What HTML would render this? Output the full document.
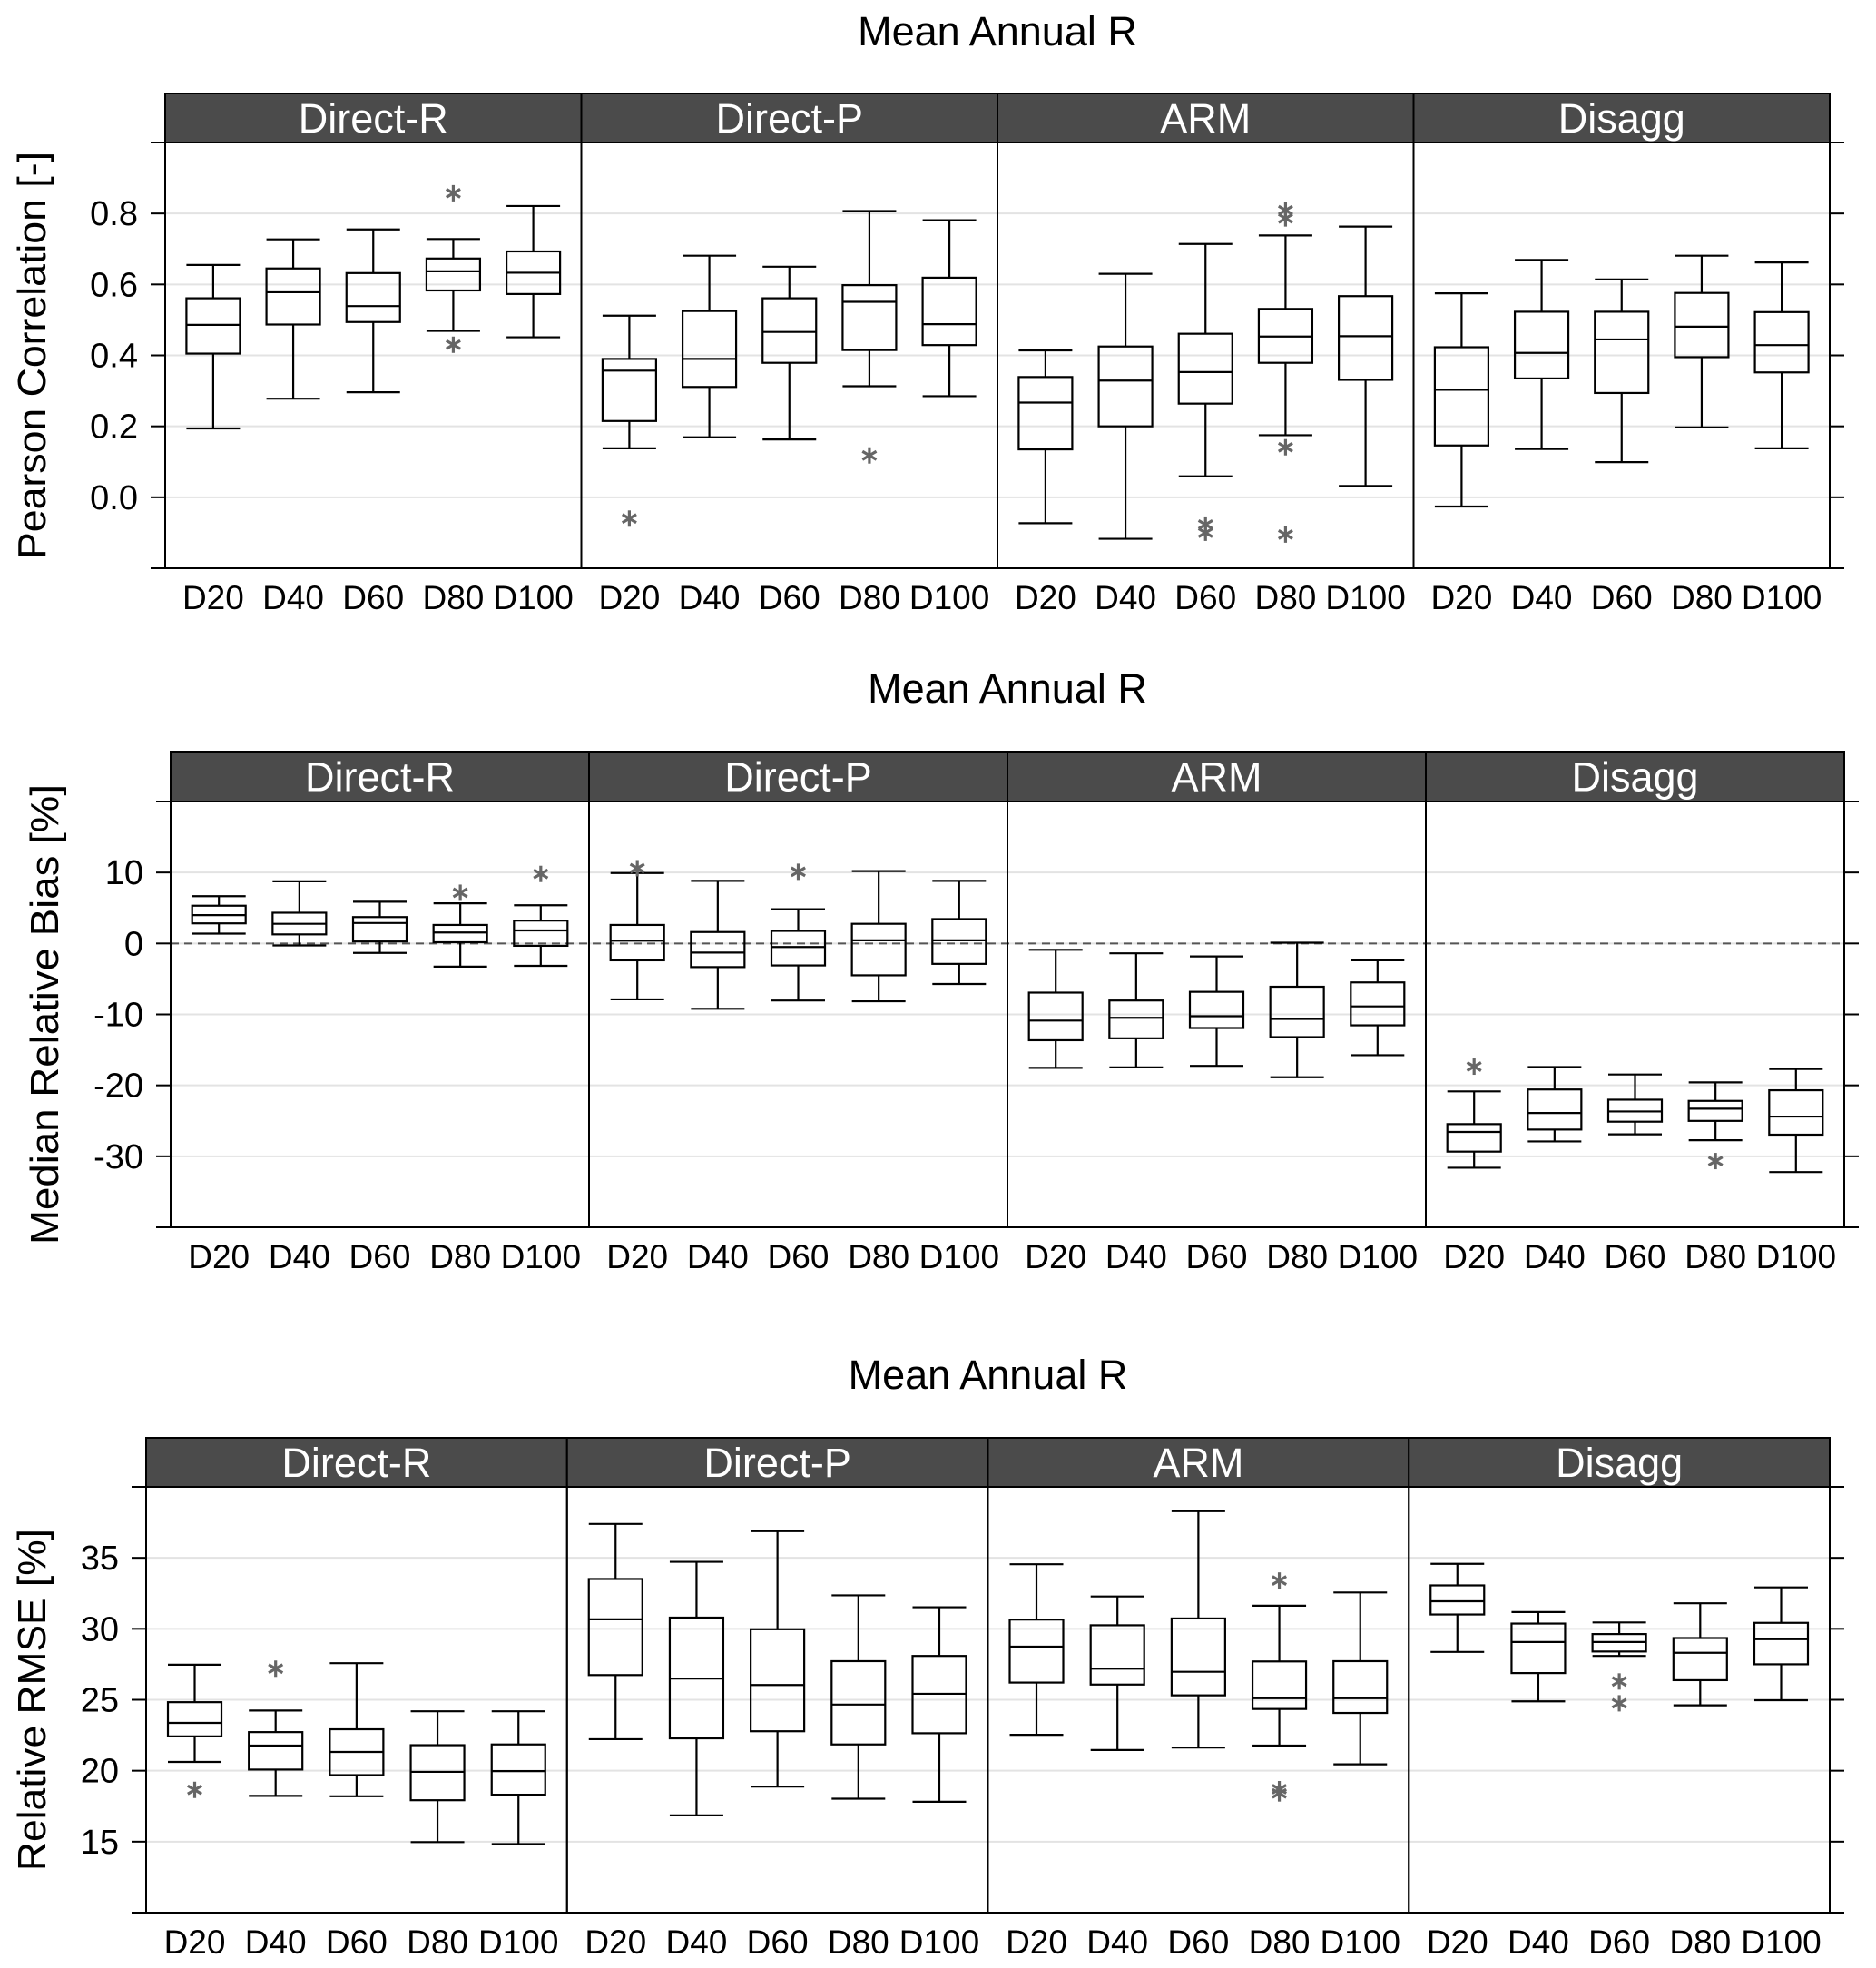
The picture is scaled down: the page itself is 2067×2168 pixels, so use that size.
<!DOCTYPE html>
<html><head><meta charset="utf-8"><style>
html,body{margin:0;padding:0;background:#fff;}
svg{display:block;font-family:"Liberation Sans",Arial,sans-serif;}
</style></head><body>
<svg id="fig" width="2067" height="2168" viewBox="0 0 2067 2168" xmlns="http://www.w3.org/2000/svg"></svg>
<script>
const methods = ["Direct-R","Direct-P","ARM","Disagg"];
const cats = ["D20","D40","D60","D80","D100"];

// Chart 1: Pearson correlation (20 boxes = 4 methods x 5 cats)
const corrLower = [0.194,0.278,0.296,0.469,0.451, 0.138,0.169,0.163,0.313,0.285, -0.073,-0.117,0.059,0.175,0.032, -0.026,0.136,0.099,0.197,0.138];
const corrQ1    = [0.405,0.487,0.494,0.583,0.573, 0.215,0.311,0.379,0.415,0.429, 0.135,0.200,0.264,0.379,0.331, 0.146,0.335,0.294,0.395,0.352];
const corrMed   = [0.486,0.578,0.539,0.637,0.633, 0.357,0.390,0.466,0.551,0.488, 0.267,0.329,0.353,0.453,0.454, 0.303,0.407,0.445,0.481,0.429];
const corrQ3    = [0.561,0.645,0.632,0.673,0.693, 0.390,0.525,0.561,0.598,0.619, 0.339,0.425,0.461,0.531,0.567, 0.423,0.523,0.523,0.576,0.522];
const corrUpper = [0.655,0.727,0.755,0.728,0.821, 0.512,0.681,0.650,0.807,0.781, 0.414,0.630,0.714,0.738,0.763, 0.575,0.669,0.614,0.681,0.662];
const corrOutIdx = [3,3,5,8,12,12,13,13,13,13];
const corrOutVal = [0.857,0.430,-0.060,0.118,-0.077,-0.100,0.809,0.786,0.141,-0.105];
const corrTicks = [0.0,0.2,0.4,0.6,0.8];
const corrTickLabels = ["0.0","0.2","0.4","0.6","0.8"];

// Chart 2: Median relative bias
const biasLower = [1.39,-0.28,-1.33,-3.27,-3.16, -7.88,-9.21,-8.04,-8.15,-5.71, -17.53,-17.47,-17.25,-18.86,-15.75, -31.61,-27.9,-26.9,-27.73,-32.22];
const biasQ1    = [2.83,1.28,0.28,0.17,-0.33, -2.38,-3.33,-3.10,-4.49,-2.88, -13.64,-13.37,-11.92,-13.2,-11.54, -29.34,-26.23,-25.12,-25.01,-26.95];
const biasMed   = [3.99,2.77,2.88,1.55,1.83, 0.39,-1.28,-0.50,0.44,0.44, -10.87,-10.48,-10.26,-10.65,-8.87, -26.57,-23.9,-23.68,-23.29,-24.4];
const biasQ3    = [5.32,4.33,3.72,2.61,3.22, 2.61,1.61,1.77,2.77,3.44, -6.93,-8.04,-6.82,-6.1,-5.49, -25.46,-20.58,-22.02,-22.19,-20.69];
const biasUpper = [6.66,8.76,5.88,5.66,5.38, 9.93,8.82,4.83,10.2,8.82, -0.89,-1.39,-1.83,0.11,-2.38, -20.85,-17.42,-18.47,-19.58,-17.69];
const biasOutIdx = [3,4,5,7,15,18];
const biasOutVal = [7.15,9.8,10.6,10.1,-17.36,-30.67];
const biasTicks = [-30,-20,-10,0,10];
const biasTickLabels = ["-30","-20","-10","0","10"];

// Chart 3: Relative RMSE
const rmseLower = [20.62,18.23,18.2,14.97,14.83, 22.22,16.85,18.88,18.03,17.81, 22.53,21.46,21.63,21.77,20.45, 28.37,24.89,28.09,24.61,24.97];
const rmseQ1    = [22.42,20.08,19.69,17.92,18.31, 26.74,22.28,22.78,21.85,22.64, 26.21,26.07,25.31,24.35,24.07, 31.01,26.88,28.4,26.38,27.5];
const rmseMed   = [23.37,21.77,21.32,19.92,19.97, 30.67,26.49,26.04,24.66,25.42, 28.74,27.19,26.97,25.11,25.11, 31.94,29.07,29.07,28.31,29.27];
const rmseQ3    = [24.83,22.72,22.92,21.8,21.85, 33.51,30.79,29.97,27.72,28.09, 30.65,30.25,30.73,27.7,27.72, 33.06,30.37,29.63,29.35,30.42];
const rmseUpper = [27.47,24.24,27.58,24.19,24.19, 37.39,34.72,36.88,32.36,31.52, 34.55,32.28,38.29,31.63,32.56, 34.58,31.18,30.45,31.8,32.92];
const rmseOutIdx = [0,1,13,13,13,17,17];
const rmseOutVal = [18.65,27.19,33.4,18.7,18.4,26.29,24.75];
const rmseTicks = [15,20,25,30,35];
const rmseTickLabels = ["15","20","25","30","35"];

const NS = "http://www.w3.org/2000/svg";
const svg = document.getElementById("fig");
function mk(tag, attrs, parent){
  const e = document.createElementNS(NS, tag);
  for (const k in attrs) e.setAttribute(k, attrs[k]);
  (parent||svg).appendChild(e);
  return e;
}

function drawChart(cfg){
  const g = mk("g", {});
  
  
  const pw = (cfg.right - cfg.left)/4;
  const y = v => cfg.bottom - (v - cfg.ymin)/(cfg.ymax - cfg.ymin)*(cfg.bottom - cfg.top);
  const x = (m, c) => cfg.left + m*pw + (c + 1 - 0.4)/5.2*pw;
  const bw = 59;

  const t = mk("text", {x:(cfg.left+cfg.right)/2, y:cfg.titleY, "text-anchor":"middle", "font-size":45, fill:"#000"}, g);
  t.textContent = "Mean Annual R";
  
  

  cfg.ticks.forEach((tv, i) => {
    const gl = mk("line", {x1:cfg.left, x2:cfg.right, y1:y(tv), y2:y(tv), stroke:"#e3e3e3", "stroke-width":2}, g);
    
    
    const tl = mk("line", {x1:cfg.left-16, x2:cfg.left, y1:y(tv), y2:y(tv), stroke:"#000", "stroke-width":2}, g);
    
    
    const tr = mk("line", {x1:cfg.right, x2:cfg.right+16, y1:y(tv), y2:y(tv), stroke:"#000", "stroke-width":2}, g);
    
    
    const lb = mk("text", {x:cfg.left-30, y:y(tv)+13, "text-anchor":"end", "font-size":38, fill:"#000"}, g);
    lb.textContent = cfg.tickLabels[i];
    
    
  });
  [cfg.top, cfg.bottom].forEach(yy => {
    mk("line", {x1:cfg.left-16, x2:cfg.left, y1:yy, y2:yy, stroke:"#000", "stroke-width":2}, g);
    mk("line", {x1:cfg.right, x2:cfg.right+16, y1:yy, y2:yy, stroke:"#000", "stroke-width":2}, g);
  });

  if (cfg.zeroLine) {
    const zl = mk("line", {x1:cfg.left, x2:cfg.right, y1:y(0), y2:y(0), stroke:"#555", "stroke-width":2, "stroke-dasharray":"9,6"}, g);
    
    
  }

  const yt = mk("text", {x:0, y:0, "text-anchor":"middle", "font-size":44, fill:"#000",
    transform:`translate(${cfg.ytX},${(cfg.top+cfg.bottom)/2}) rotate(-90)`, textLength:cfg.ytLen, lengthAdjust:"spacingAndGlyphs"}, g);
  yt.textContent = cfg.ytitle;
  
  

  for (let m = 0; m < 4; m++) {
    const px = cfg.left + m*pw;
    const strip = mk("rect", {x:px, y:cfg.stripTop, width:pw, height:cfg.top-cfg.stripTop, fill:"#4b4b4b", stroke:"#000", "stroke-width":2}, g);
    
    
    const st = mk("text", {x:px+pw/2, y:(cfg.stripTop+cfg.top)/2+16, "text-anchor":"middle", "font-size":45, fill:"#fff"}, g);
    st.textContent = methods[m];
    
    
    const pr = mk("rect", {x:px, y:cfg.top, width:pw, height:cfg.bottom-cfg.top, fill:"none", stroke:"#000", "stroke-width":2}, g);
    
    
    for (let c = 0; c < 5; c++) {
      const i = m*5 + c;
      const cx = x(m, c);
      const bg = mk("g", {stroke:"#000", "stroke-width":2.2, fill:"none"}, g);
      
      
      mk("line", {x1:cx, x2:cx, y1:y(cfg.upper[i]), y2:y(cfg.q3[i])}, bg);
      mk("line", {x1:cx, x2:cx, y1:y(cfg.q1[i]), y2:y(cfg.lower[i])}, bg);
      mk("line", {x1:cx-bw/2, x2:cx+bw/2, y1:y(cfg.upper[i]), y2:y(cfg.upper[i])}, bg);
      mk("line", {x1:cx-bw/2, x2:cx+bw/2, y1:y(cfg.lower[i]), y2:y(cfg.lower[i])}, bg);
      mk("rect", {x:cx-bw/2, y:y(cfg.q3[i]), width:bw, height:y(cfg.q1[i])-y(cfg.q3[i])}, bg);
      mk("line", {x1:cx-bw/2, x2:cx+bw/2, y1:y(cfg.med[i]), y2:y(cfg.med[i])}, bg);
      const xl = mk("text", {x:cx, y:cfg.bottom+45, "text-anchor":"middle", "font-size":37, fill:"#000"}, g);
      xl.textContent = cats[c];
      
      
    }
  }
  cfg.outIdx.forEach((idx, k) => {
    const m = Math.floor(idx/5), c = idx%5;
    const cx = x(m, c), cy = y(cfg.outVal[k]);
    const og = mk("g", {stroke:"#666", "stroke-width":3.2}, g);
    
    
    const r = 9;
    mk("line", {x1:cx, x2:cx, y1:cy-r, y2:cy+r}, og);
    mk("line", {x1:cx-r*0.85, x2:cx+r*0.85, y1:cy-r*0.5, y2:cy+r*0.5}, og);
    mk("line", {x1:cx-r*0.85, x2:cx+r*0.85, y1:cy+r*0.5, y2:cy-r*0.5}, og);
  });
}

drawChart({name:"chart-pearson-correlation", left:182, right:2016, stripTop:103, top:157, bottom:626, ymin:-0.2, ymax:1.0,
  ticks:corrTicks, tickLabels:corrTickLabels, titleY:50, ytitle:"Pearson Correlation [-]", ytX:50, ytLen:449,
  lower:corrLower, q1:corrQ1, med:corrMed, q3:corrQ3, upper:corrUpper, outIdx:corrOutIdx, outVal:corrOutVal});
drawChart({name:"chart-median-relative-bias", left:188, right:2032, stripTop:828, top:883, bottom:1352, ymin:-40, ymax:20,
  ticks:biasTicks, tickLabels:biasTickLabels, titleY:774, ytitle:"Median Relative  Bias [%]", ytX:64, ytLen:507, zeroLine:true,
  lower:biasLower, q1:biasQ1, med:biasMed, q3:biasQ3, upper:biasUpper, outIdx:biasOutIdx, outVal:biasOutVal});
drawChart({name:"chart-relative-rmse", left:161, right:2016, stripTop:1584, top:1638, bottom:2107, ymin:10, ymax:40,
  ticks:rmseTicks, tickLabels:rmseTickLabels, titleY:1530, ytitle:"Relative RMSE [%]", ytX:50, ytLen:377,
  lower:rmseLower, q1:rmseQ1, med:rmseMed, q3:rmseQ3, upper:rmseUpper, outIdx:rmseOutIdx, outVal:rmseOutVal});
</script>
</body></html>
